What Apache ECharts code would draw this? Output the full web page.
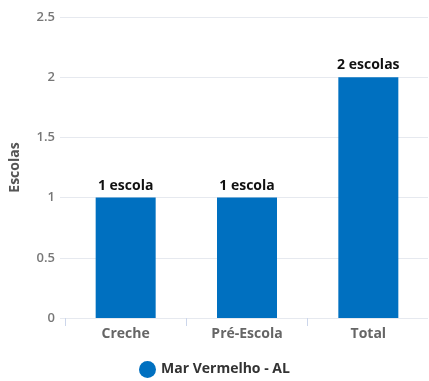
<!DOCTYPE html>
<html>
<head>
<meta charset="utf-8">
<script src="https://cdn.jsdelivr.net/npm/echarts@6/dist/echarts.min.js"></script>
<style>
  html, body { margin: 0; padding: 0; background: #fff; }
  #chart { width: 429px; height: 381px; }
</style>
</head>
<body>
<div id="chart"></div>
<script>
// Número de escolas por etapa de ensino
const categories = ['Creche', 'Pré-Escola', 'Total'];
const schools = [1, 1, 2];
const seriesName = 'Mar Vermelho - AL';
const yMin = 0, yMax = 2.5, yStep = 0.5;

const FONT = '"Open Sans", Lato, sans-serif';
const BLUE = '#0070c0';

const chart = echarts.init(document.getElementById('chart'));
chart.setOption({
  animation: false,
  textStyle: { fontFamily: FONT },
  legend: {
    data: [{ name: seriesName, icon: 'circle' }],
    left: 139, top: 361, padding: 0,
    itemWidth: 17, itemHeight: 17, itemGap: 4,
    textStyle: { color: '#333', fontSize: 14, fontWeight: 'bold', fontFamily: FONT }
  },
  grid: [
    { left: 65, right: -4, top: 17, bottom: 63 },
    { left: 56, right: 1, top: 17, bottom: 63 }
  ],
  xAxis: [
    {
      type: 'category', gridIndex: 0, data: categories,
      axisLine: { show: false },
      axisTick: { show: true, length: 8, lineStyle: { color: '#ccd6eb' } },
      axisLabel: { color: '#666', fontSize: 14, fontWeight: 'bold', margin: 9, fontFamily: FONT }
    },
    { type: 'value', gridIndex: 1, min: 0, max: 1, show: false }
  ],
  yAxis: [
    { type: 'value', gridIndex: 0, min: yMin, max: yMax, interval: yStep, show: false },
    {
      type: 'value', gridIndex: 1, min: yMin, max: yMax, interval: yStep,
      name: 'Escolas', nameLocation: 'middle', nameGap: 38, nameRotate: 90,
      nameTextStyle: { color: '#555', fontSize: 14, fontWeight: 'bold', fontFamily: FONT },
      axisLine: { show: false }, axisTick: { show: false },
      axisLabel: { color: '#777', fontSize: 13, fontWeight: 600, margin: 5, fontFamily: FONT },
      splitLine: { lineStyle: { color: '#e6e9ef', width: 1 } }
    }
  ],
  series: [
    {
      name: seriesName, type: 'bar', xAxisIndex: 0, yAxisIndex: 0,
      data: schools, barWidth: 60,
      itemStyle: { color: BLUE },
      label: {
        show: true, position: 'top', distance: 5,
        color: '#111', fontSize: 14, fontWeight: 'bold', fontFamily: FONT,
        formatter: p => p.value + (p.value === 1 ? ' escola' : ' escolas')
      }
    }
  ]
});
</script>
</body>
</html>
